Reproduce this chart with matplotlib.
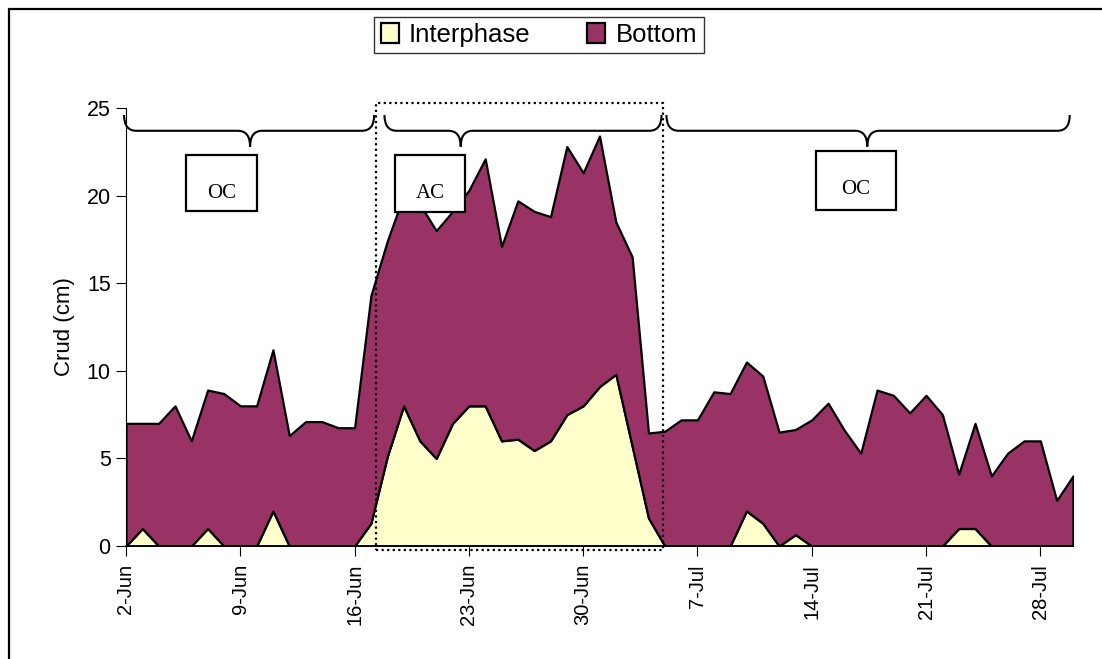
import numpy as np
import matplotlib
matplotlib.use("Agg")
import matplotlib.pyplot as plt
import matplotlib.patches as patches
from matplotlib.path import Path

plt.rcParams["font.family"] = "Liberation Sans"

# daily readings, 2-Jun .. 30-Jul
interphase = [0, 1.0, 0, 0, 0, 1.0, 0, 0, 0, 2.0,
              0, 0, 0, 0, 0, 1.3, 5.1, 8.0, 6.0, 5.0,
              7.0, 8.0, 8.0, 6.0, 6.1, 5.45, 6.0, 7.5, 8.0, 9.1,
              9.8, 5.7, 1.6, 0, 0, 0, 0, 0, 2.0, 1.3,
              0, 0.65, 0, 0, 0, 0, 0, 0, 0, 0,
              0, 1.0, 1.0, 0, 0, 0, 0, 0, 0]
bottom = [7.0, 6.0, 7.0, 8.0, 6.0, 7.9, 8.7, 8.0, 8.0, 9.2,
          6.3, 7.1, 7.1, 6.75, 6.75, 13.0, 12.3, 12.0, 13.5, 13.0,
          12.1, 12.3, 14.1, 11.1, 13.6, 13.65, 12.8, 15.3, 13.3, 14.3,
          8.7, 10.8, 4.85, 6.55, 7.2, 7.2, 8.8, 8.7, 8.5, 8.4,
          6.5, 6.0, 7.2, 8.15, 6.6, 5.3, 8.9, 8.6, 7.6, 8.6,
          7.5, 3.1, 6.0, 4.0, 5.3, 6.0, 6.0, 2.6, 4.0]
tick_days = [0, 7, 14, 21, 28, 35, 42, 49, 56]
tick_labels = ["2-Jun", "9-Jun", "16-Jun", "23-Jun", "30-Jun",
               "7-Jul", "14-Jul", "21-Jul", "28-Jul"]
yticks = [0, 5, 10, 15, 20, 25]

# period annotations: (start, end, tip) in days
periods = [(-0.12, 15.2, 7.6), (15.83, 32.8, 20.5), (33.1, 57.8, 45.4)]
# text, box x0, x1, y0, y1, text y
labels = [("OC", 3.67, 8.0, 19.14, 22.34, 20.1),
          ("AC", 16.5, 20.78, 19.09, 22.34, 20.1),
          ("OC", 42.24, 47.13, 19.2, 22.57, 20.35)]

days = np.arange(len(interphase))

fig = plt.figure(figsize=(11.02, 6.59), dpi=100)
ax = fig.add_axes([126 / 1102, 1 - 546 / 659, (1073 - 126) / 1102, (546 - 108) / 659])

polys = ax.stackplot(days, interphase, bottom,
                     colors=["#FFFFCC", "#993366"],
                     edgecolor="black", linewidth=1.6,
                     labels=["Interphase", "Bottom"])

ax.set_xlim(0, len(days) - 1)
ax.set_ylim(0, 25)
ax.set_yticks(yticks)
ax.set_xticks(tick_days)
ax.set_xticklabels(tick_labels, rotation=90)
ax.tick_params(axis="both", direction="out", length=7, width=0.8)
ax.tick_params(axis="y", labelsize=15.5, pad=4)
ax.tick_params(axis="x", labelsize=14.5, pad=6)
ax.set_ylabel("Crud (cm)", fontsize=16, labelpad=8)
for s in ["top", "right"]:
    ax.spines[s].set_visible(False)
ax.spines["left"].set_linewidth(0.8)
ax.spines["bottom"].set_linewidth(1.2)


def brace(x0, x1, xm, ytop=24.6, ymid=23.7, ytip=22.8, r=0.75):
    codes = [Path.MOVETO, Path.CURVE3, Path.CURVE3, Path.LINETO,
             Path.CURVE3, Path.CURVE3,
             Path.MOVETO, Path.CURVE3, Path.CURVE3, Path.LINETO,
             Path.CURVE3, Path.CURVE3]
    verts = [(x0, ytop), (x0, ymid), (x0 + r, ymid), (xm - r, ymid),
             (xm, ymid), (xm, ytip),
             (xm, ytip), (xm, ymid), (xm + r, ymid), (x1 - r, ymid),
             (x1, ymid), (x1, ytop)]
    return patches.PathPatch(Path(verts, codes), fill=False, lw=1.5,
                             edgecolor="black", clip_on=False, zorder=5)


for x0, x1, xm in periods:
    ax.add_patch(brace(x0, x1, xm))

for txt, bx0, bx1, by0, by1, ty in labels:
    ax.add_patch(patches.Rectangle((bx0, by0), bx1 - bx0, by1 - by0,
                                   facecolor="white", edgecolor="black",
                                   lw=1.6, zorder=6, clip_on=False))
    ax.text((bx0 + bx1) / 2, ty, txt, ha="center", va="center",
            fontsize=15, family="Liberation Serif", zorder=7)

# dotted frame round the AC period
ax.add_patch(patches.Rectangle((15.34, -0.23), 32.9 - 15.34, 25.3 + 0.23,
                               fill=False, edgecolor="black", lw=1.6,
                               linestyle=(0, (1, 1.5)), zorder=8, clip_on=False))

leg = fig.legend(handles=polys, labels=["Interphase", "Bottom"],
                 loc="center", bbox_to_anchor=(539 / 1102, 1 - 35 / 659),
                 ncol=2, fontsize=18.5, frameon=True, fancybox=False,
                 handlelength=0.7, handleheight=0.8, handletextpad=0.4,
                 columnspacing=2.2, borderpad=0.25, borderaxespad=0)
leg.get_frame().set_edgecolor("black")
leg.get_frame().set_linewidth(1.0)

# chart area border (only left and top visible)
fig.add_artist(patches.Rectangle((9 / 1102, -0.1), 1.2, 1.1 - 9 / 659,
                                 transform=fig.transFigure, fill=False,
                                 edgecolor="black", lw=1.6))

fig.savefig("out.png", dpi=100)
